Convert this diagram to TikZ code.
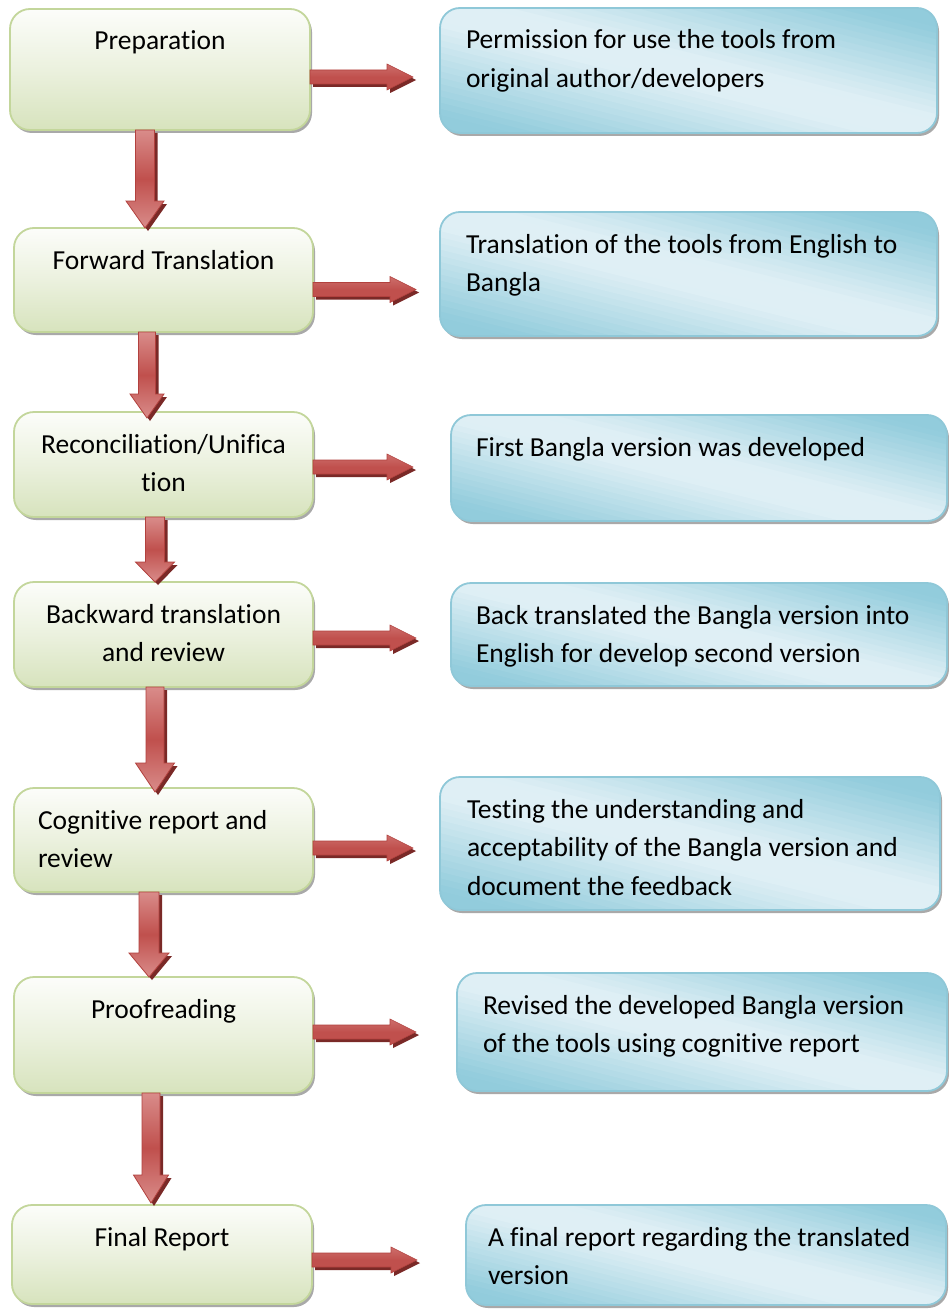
\documentclass[tikz,border=0pt]{standalone}
\usepackage{fontspec}
\setmainfont{Carlito}[Ligatures={NoCommon}]
\usetikzlibrary{calc,shadows,backgrounds}
\definecolor{gTop}{HTML}{FCFDFA}
\definecolor{gMid}{HTML}{EBF1DE}
\definecolor{gBot}{HTML}{D7E3BD}
\definecolor{gBorder}{HTML}{C3D69B}
\definecolor{bDark}{HTML}{92CCDC}
\definecolor{bLight}{HTML}{DFEFF5}
\definecolor{bBorder}{HTML}{8FC8D8}
\definecolor{aRed}{HTML}{C0504D}
\definecolor{aLight}{HTML}{D98C8A}
\definecolor{aEdge}{HTML}{B2413E}
\definecolor{aDark}{HTML}{7A2927}
\definecolor{shGray}{HTML}{A0A0A0}

\tikzset{
  boxbase/.style={inner sep=0pt, outer sep=0pt, anchor=north west,
    rounded corners=20pt, line width=1.8pt},
  gbox/.style={boxbase, draw=gBorder, top color=gTop, bottom color=gBot, middle color=gMid,
    drop shadow={shadow xshift=2pt, shadow yshift=-3pt, fill=shGray, opacity=0.9}},
  bbox/.style={boxbase, draw=bBorder},
  vbody/.style={top color=aLight, bottom color=aLight, middle color=aRed, draw=aEdge, line width=0.8pt},
  hbody/.style={top color=aLight!50!aRed, bottom color=aRed, middle color=aRed, draw=aEdge, line width=0.6pt},
  ashadow/.style={fill=aDark, transform canvas={shift={(3pt,-3pt)}}},
}

% diagonal gradient background (with shadow) for a blue box: node name, half extent
\newcommand\bfill[2]{%
  \begin{scope}[on background layer]
    \fill[shGray, opacity=0.9, rounded corners=20pt] ([shift={(2pt,-3pt)}]#1.north west) rectangle ([shift={(2pt,-3pt)}]#1.south east);
    \begin{scope}
      \clip[rounded corners=20pt] (#1.north west) rectangle (#1.south east);
      \begin{scope}[shift={(#1.center)}, rotate=-14]
        \foreach \i in {-20,...,19}{
          \pgfmathsetmacro\tq{abs((\i+0.5)/20)}
          \pgfmathsetmacro\pct{100*(1-min(1,max(0,(\tq-0.12)/0.72)))}
          \fill[bLight!\pct!bDark] (-330pt,{(\i*#2/20-0.4)*1pt}) rectangle (330pt,{((\i+1)*#2/20+0.4)*1pt});
        }
      \end{scope}
    \end{scope}
  \end{scope}}

% vertical block arrow: start, end, shaft half width, head half width, head length
\newcommand\vblock[6][]{%
  \path[#1] let \p1=(#2), \p2=(#3) in
   (\x1-#4,\y1) -- (\x1+#4,\y1) -- (\x1+#4,\y2+#6) -- (\x1+#5,\y2+#6) -- (\x1,\y2)
   -- (\x1-#5,\y2+#6) -- (\x1-#4,\y2+#6) -- cycle;}
\newcommand\varrow[5]{\vblock[ashadow]{#1}{#2}{#3}{#4}{#5}\vblock[vbody]{#1}{#2}{#3}{#4}{#5}}
% horizontal block arrow
\newcommand\hblock[6][]{%
  \path[#1] let \p1=(#2), \p2=(#3) in
   (\x1,\y1+#4) -- (\x2-#6,\y1+#4) -- (\x2-#6,\y1+#5) -- (\x2,\y1) -- (\x2-#6,\y1-#5)
   -- (\x2-#6,\y1-#4) -- (\x1,\y1-#4) -- cycle;}
\newcommand\harrow[2]{\hblock[ashadow]{#1}{#2}{7pt}{13pt}{26pt}\hblock[hbody]{#1}{#2}{7pt}{13pt}{26pt}}

\newcommand\ctx[3]{\parbox[t][#1][t]{#2}{\centering\fontsize{27.5pt}{38.5pt}\selectfont\rule{0pt}{41pt}#3\par}}
\newcommand\ltx[4]{\parbox[t][#1][t]{#2}{\leftskip=#3\relax\rightskip=0pt plus 1fil\fontsize{27.5pt}{38.5pt}\selectfont\rule{0pt}{41pt}#4\par}}

\begin{document}
\begin{tikzpicture}[x=1pt,y=-1pt]
\useasboundingbox (0,0) rectangle (948,1311);
\begin{scope}[on background layer]
  \fill[white] (0,0) rectangle (948,1311);
\end{scope}

% left column
\node[gbox] (p1) at (10,9)    {\ctx{121pt}{300pt}{Preparation}};
\node[gbox] (p2) at (14,228)  {\ctx{104pt}{299pt}{Forward Translation}};
\node[gbox] (p3) at (14,412)  {\ctx{105pt}{299pt}{Reconciliation/Unifica\\tion}};
\node[gbox] (p4) at (14,582)  {\ctx{105pt}{299pt}{Backward translation\\and review}};
\node[gbox] (p5) at (14,788)  {\ltx{104pt}{299pt}{24pt}{Cognitive report and\\review}};
\node[gbox] (p6) at (14,977)  {\ctx{116pt}{299pt}{Proofreading}};
\node[gbox] (p7) at (12,1205) {\ctx{99pt}{300pt}{Final Report}};

% right column
\node[bbox] (q1) at (440,8)    {\ltx{125pt}{497pt}{26pt}{Permission for use the tools from\\original author/developers}};
\node[bbox] (q2) at (440,212)  {\ltx{124pt}{497pt}{26pt}{Translation of the tools from English to\\Bangla}};
\node[bbox] (q3) at (451,415)  {\ltx{106pt}{496pt}{25pt}{First Bangla version was developed}};
\node[bbox] (q4) at (451,583)  {\ltx{103pt}{496pt}{25pt}{Back translated the Bangla version into\\English for develop second version}};
\node[bbox] (q5) at (440,777)  {\ltx{133pt}{500pt}{27pt}{Testing the understanding and\\acceptability of the Bangla version and\\document the feedback}};
\node[bbox] (q6) at (457,973)  {\ltx{118pt}{490pt}{26pt}{Revised the developed Bangla version\\of the tools using cognitive report}};
\node[bbox] (q7) at (466,1205) {\ltx{100pt}{480pt}{22pt}{A final report regarding the translated\\version}};

\bfill{q1}{121}
\bfill{q2}{120}
\bfill{q3}{111}
\bfill{q4}{110}
\bfill{q5}{125}
\bfill{q6}{117}
\bfill{q7}{107}

% vertical arrows
\varrow{[xshift=-15pt]p1.south}{p2.north}{9.5pt}{19pt}{27pt}
\varrow{[xshift=-16.5pt]p2.south}{[yshift=-6pt]p3.north}{8.5pt}{17pt}{24pt}
\varrow{[xshift=-8.5pt]p3.south}{p4.north}{9.5pt}{19.5pt}{20pt}
\varrow{[xshift=-8.5pt]p4.south}{[yshift=-4pt]p5.north}{9pt}{19.5pt}{29pt}
\varrow{[xshift=-14.5pt]p5.south}{p6.north}{10pt}{20pt}{24pt}
\varrow{[xshift=-12.5pt]p6.south}{[yshift=2pt]p7.north}{9pt}{17.5pt}{28pt}

% horizontal arrows
\harrow{[yshift=-7.5pt]p1.east}{[xshift=-27pt]q1.west}
\harrow{[yshift=-9.5pt]p2.east}{[xshift=-24pt]q2.west}
\harrow{[yshift=-2.5pt]p3.east}{[xshift=-38pt]q3.west}
\harrow{[yshift=-3.5pt]p4.east}{[xshift=-35pt]q4.west}
\harrow{[yshift=-8pt]p5.east}{[xshift=-27pt]q5.west}
\harrow{[yshift=3pt]p6.east}{[xshift=-41pt]q6.west}
\harrow{[yshift=-5.5pt]p7.east}{[xshift=-49pt]q7.west}
\end{tikzpicture}
\end{document}
